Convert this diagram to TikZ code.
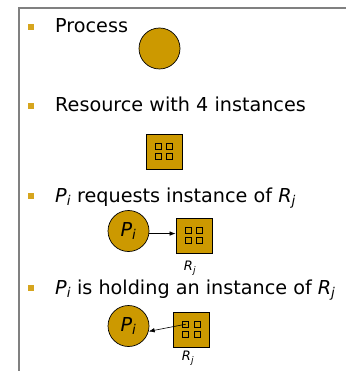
\documentclass[tikz,border=0pt]{standalone}
\usepackage{fontspec}
\setmainfont{DejaVu Sans}
\usetikzlibrary{arrows.meta}
\definecolor{gold}{RGB}{204,153,0}
\definecolor{bulletgold}{RGB}{214,165,30}
\definecolor{frame}{RGB}{128,128,128}
\newcommand\mytext[1]{{\fontsize{19.2}{22}\selectfont #1}}
\newcommand\subl[2]{\textit{#1}\textsubscript{\textit{#2}}}
\newcommand\instances[1]{%
  \node[inst] (#1a) at ([shift={(-5.7pt,5.3pt)}]#1.center) {};
  \node[inst] (#1b) at ([shift={(5.7pt,5.3pt)}]#1.center) {};
  \node[inst] (#1c) at ([shift={(-5.7pt,-5.3pt)}]#1.center) {};
  \node[inst] (#1d) at ([shift={(5.7pt,-5.3pt)}]#1.center) {};}
\begin{document}
\begin{tikzpicture}[x=1pt,y=-1pt,
  bulletbox/.style={fill=bulletgold,minimum size=6pt,inner sep=0pt},
  item/.style={anchor=base west,inner sep=0pt},
  proc/.style={circle,draw=black,fill=gold,minimum size=41pt,inner sep=0pt,line width=0.7pt},
  res/.style={rectangle,draw=black,fill=gold,minimum width=36pt,minimum height=35pt,inner sep=0pt,line width=0.8pt},
  inst/.style={rectangle,draw=black,minimum size=6pt,inner sep=0pt,line width=0.7pt},
  lbl/.style={inner sep=0pt,font=\fontsize{13}{15}\selectfont},
  arr/.style={-{Latex[length=6pt,width=4.5pt]},line width=0.6pt}]
\useasboundingbox (0,0) rectangle (346,371);
\draw[frame,line width=1.1pt] (19,371) -- (19,8) -- (346,8);
% bullets
\node[bulletbox] (b1) at (31,27) {};
\node[bulletbox] (b2) at (31,106) {};
\node[bulletbox] (b3) at (31,196) {};
\node[bulletbox] (b4) at (31,288) {};
% texts
\node[item] (t1) at (55,33) {\mytext{Process}};
\node[item] (t2) at (55,112) {\mytext{Resource with 4 instances}};
\node[item] (t3) at (55,202) {\mytext{\subl{P}{i} requests instance of \subl{R}{j}}};
\node[item] (t4) at (55,294) {\mytext{\subl{P}{i} is holding an instance of \subl{R}{j}}};
% process
\node[proc] (p0) at (159.5,48.5) {};
% resource
\node[res] (r0) at (164,151.5) {};
\instances{r0}
% request
\node[proc] (p1) at (128.5,231) {\mytext{\subl{P}{i}}};
\node[res] (r1) at (194,235.5) {};
\instances{r1}
\node[lbl] (l1) at (190,268) {\subl{R}{j}};
\draw[arr] (p1.-7) -- (p1.-7 -| r1.west);
% holding
\node[proc] (p2) at (128.5,326) {\mytext{\subl{P}{i}}};
\node[res] (r2) at (191.5,329.5) {};
\instances{r2}
\node[lbl] (l2) at (188,358) {\subl{R}{j}};
\draw[arr] (r2a.center) -- (p2.-15);
\end{tikzpicture}
\end{document}
